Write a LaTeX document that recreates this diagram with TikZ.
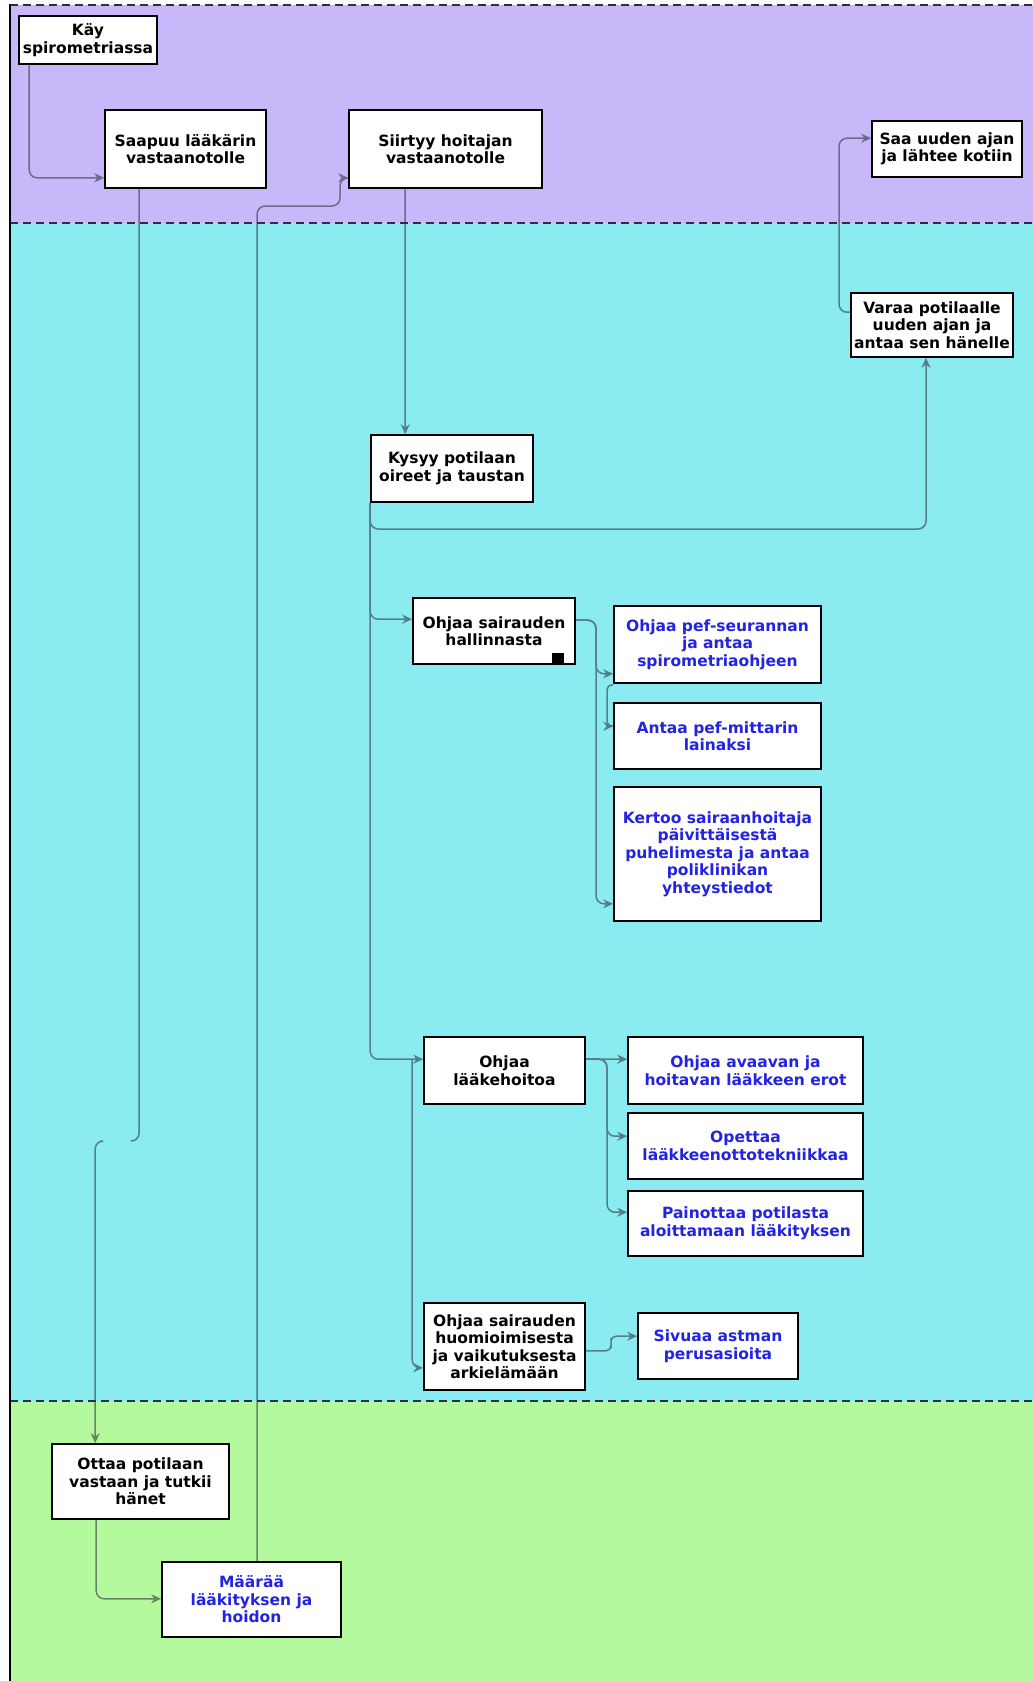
\documentclass[tikz,border=0pt]{standalone}
\usepackage{fontspec}
\setmainfont{DejaVu Sans}
\usetikzlibrary{arrows.meta}
\definecolor{laneP}{RGB}{200,184,250}
\definecolor{laneC}{RGB}{138,235,240}
\definecolor{laneG}{RGB}{180,249,157}
\definecolor{txtblue}{RGB}{35,35,225}
\definecolor{connc}{RGB}{45,50,60}
\definecolor{dashc}{RGB}{40,48,70}
\tikzset{
  box/.style={draw=black, line width=1.6pt, fill=white, align=center, inner sep=2pt,
    font=\fontsize{15.5}{17.5}\selectfont\bfseries},
  bluebox/.style={box, text=txtblue},
  conn/.style={draw=connc, line width=1.5pt, -{Stealth[length=10pt,width=9pt]}},
  plainline/.style={draw=connc, line width=1.5pt},
  lanesep/.style={draw=dashc, line width=1.8pt, dash pattern=on 8pt off 5pt},
}
\begin{document}
\begin{tikzpicture}[x=1pt,y=-1pt]
\useasboundingbox (0,0) rectangle (1033,1681);
\begin{scope}
\clip (0,0) rectangle (1033,1681);
\fill[white] (-5,-5) rectangle (1040,1690);
% lanes
\fill[laneP] (10,5) rectangle (1040,223);
\fill[laneC] (10,223) rectangle (1040,1401);
\fill[laneG] (10,1401) rectangle (1040,1690);
\draw[lanesep] (10,5) -- (1040,5);
\draw[lanesep] (10,223) -- (1040,223);
\draw[lanesep] (10,1401) -- (1040,1401);
\draw[black, line width=2pt] (9.5,4) -- (9.5,1690);
\end{scope}

% nodes
\node[box, minimum width=138pt, minimum height=48pt] (kay) at (88,40) {Käy\\spirometriassa};
\node[box, minimum width=161pt, minimum height=78pt] (saapuu) at (185.5,149) {Saapuu lääkärin\\vastaanotolle};
\node[box, minimum width=193pt, minimum height=78pt] (siirtyy) at (445.5,149) {Siirtyy hoitajan\\vastaanotolle};
\node[box, minimum width=150pt, minimum height=56pt] (saa) at (947,149) {Saa uuden ajan\\ja lähtee kotiin};
\node[box, minimum width=162pt, minimum height=64pt] (varaa) at (932,325) {Varaa potilaalle\\uuden ajan ja\\antaa sen hänelle};
\node[box, minimum width=162pt, minimum height=67pt] (kysyy) at (452,468.5) {Kysyy potilaan\\oireet ja taustan};
\node[box, minimum width=162pt, minimum height=66pt] (hall) at (494,631) {Ohjaa sairauden\\hallinnasta};
\node[fill=black, minimum width=12pt, minimum height=10pt, inner sep=0pt] (sqmark) at (558,658) {};
\node[bluebox, minimum width=207pt, minimum height=77pt] (pef) at (717.5,644.5) {Ohjaa pef-seurannan\\ja antaa\\spirometriaohjeen};
\node[bluebox, minimum width=207pt, minimum height=66pt] (antaa) at (717.5,736) {Antaa pef-mittarin\\lainaksi};
\node[bluebox, minimum width=207pt, minimum height=134pt] (kertoo) at (717.5,854) {Kertoo sairaanhoitaja\\päivittäisestä\\puhelimesta ja antaa\\poliklinikan\\yhteystiedot};
\node[box, minimum width=161pt, minimum height=67pt] (laake) at (504.5,1070.5) {Ohjaa\\lääkehoitoa};
\node[bluebox, minimum width=235pt, minimum height=67pt] (avaavan) at (745.5,1070.5) {Ohjaa avaavan ja\\hoitavan lääkkeen erot};
\node[bluebox, minimum width=235pt, minimum height=66pt] (opettaa) at (745.5,1146) {Opettaa\\lääkkeenottotekniikkaa};
\node[bluebox, minimum width=235pt, minimum height=65pt] (painottaa) at (745.5,1223.5) {Painottaa potilasta\\aloittamaan lääkityksen};
\node[box, minimum width=161pt, minimum height=87pt] (huom) at (504.5,1346.5) {Ohjaa sairauden\\huomioimisesta\\ja vaikutuksesta\\arkielämään};
\node[bluebox, minimum width=160pt, minimum height=66pt] (sivuaa) at (718,1346) {Sivuaa astman\\perusasioita};
\node[box, minimum width=177pt, minimum height=75pt] (ottaa) at (140.5,1481.5) {Ottaa potilaan\\vastaan ja tutkii\\hänet};
\node[bluebox, minimum width=179pt, minimum height=75pt] (maaraa) at (251.5,1599.5) {Määrää\\lääkityksen ja\\hoidon};

% connectors
\coordinate (gapA) at (131,1141);
\coordinate (gapB) at (100,1141);
\begin{scope}[transparency group, opacity=0.58]
\draw[conn, rounded corners=8pt] ([xshift=11pt]kay.south west) |- ([yshift=11pt]saapuu.south west);
\draw[plainline, rounded corners=8pt] ([xshift=35pt]saapuu.south west) |- (gapA);
\draw[conn, rounded corners=8pt] (gapB) -| ([xshift=44pt]ottaa.north west);
\draw[conn, rounded corners=8pt] ([xshift=45pt]ottaa.south west) |- ([yshift=39pt]maaraa.south west);
\draw[conn, rounded corners=8pt] ([xshift=96pt]maaraa.north west) |- (340,206) |- ([yshift=11pt]siirtyy.south west);
\draw[conn] ([xshift=57pt]siirtyy.south west) -- ([xshift=35pt]kysyy.north west);
\draw[conn, rounded corners=8pt] (kysyy.south west) |- (900,529) -| ([xshift=-6pt]varaa.south);
\draw[conn, rounded corners=8pt] (kysyy.south west) |- ([yshift=-22pt]hall.north west);
\draw[conn, rounded corners=8pt] (kysyy.south west) |- ([yshift=-23pt]laake.north west);
\draw[conn, rounded corners=8pt] ([xshift=-11pt,yshift=-23pt]laake.north west) |- ([yshift=23pt]huom.south west);
\draw[conn, rounded corners=8pt] ([yshift=-23pt]hall.north east) -| (596,650) |- ([yshift=10pt]pef.south west);
\draw[conn, rounded corners=8pt] ([yshift=-23pt]hall.north east) -| (596,850) |- ([yshift=18pt]kertoo.south west);
\draw[conn, rounded corners=5pt] ([yshift=-1pt]pef.south west) -| (607,705) |- ([yshift=-24pt]antaa.north west);
\draw[conn] ([yshift=-23pt]laake.north east) -- ([yshift=-23pt]avaavan.north west);
\draw[conn, rounded corners=8pt] ([yshift=-23pt]laake.north east) -| (607,1100) |- ([yshift=-24pt]opettaa.north west);
\draw[conn, rounded corners=8pt] ([yshift=-23pt]laake.north east) -| (607,1180) |- ([yshift=-22pt]painottaa.north west);
\draw[conn, rounded corners=5pt] ([yshift=40pt]huom.south east) -| (611,1343) |- ([yshift=-24pt]sivuaa.north west);
\draw[conn, rounded corners=8pt] ([yshift=-20pt]varaa.north west) -| (839,200) |- ([yshift=-18pt]saa.north west);
\end{scope}
\end{tikzpicture}
\end{document}
